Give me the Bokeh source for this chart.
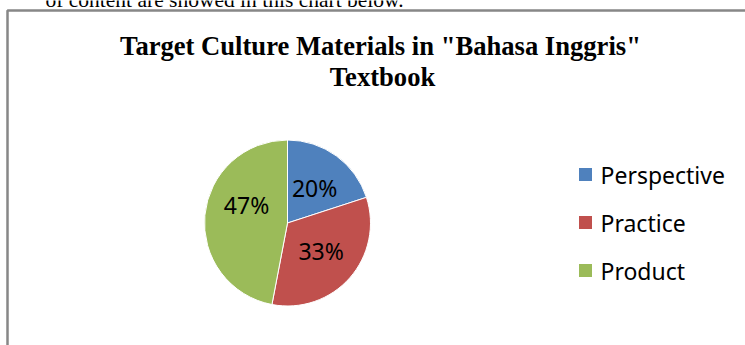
import math
from bokeh.plotting import figure
from bokeh.models import Range1d, ColumnDataSource
from bokeh.core.properties import value
from bokeh.embed import file_html
from bokeh.resources import INLINE

# ---- data ----
categories = ["Perspective", "Practice", "Product"]
shares = [20, 33, 47]
labels = ["20%", "33%", "47%"]
colors = ["#4F81BD", "#C0504D", "#9BBB59"]
title_lines = ['Target Culture Materials in "Bahasa Inggris"', "Textbook"]
page_fragment = "of content are showed in this chart below."

W, H = 745, 345

def sy(y):  # screen y (from top) -> data y
    return H - y

p = figure(width=W, height=H, output_backend="svg", toolbar_location=None,
           x_range=Range1d(0, W), y_range=Range1d(0, H),
           min_border=0, margin=(0, 0, 0, 0))
p.axis.visible = False
p.grid.visible = False
p.outline_line_color = None
p.background_fill_color = "white"
p.border_fill_color = "white"

# chart frame (extends beyond the visible area on right/bottom)
p.quad(left=[7], right=[W + 20], top=[sy(10)], bottom=[-20],
       fill_color=None, line_color="#878787", line_width=2.5)

# text fragment of surrounding document (cut off at top)
p.text(x=[45], y=[sy(-1)], text=[page_fragment], text_font=value("Liberation Serif"),
       text_font_size="21.5px", text_color="black", text_baseline="alphabetic")

# title
p.text(x=[380, 382], y=[sy(45), sy(76)], text=title_lines,
       text_font=value("Liberation Serif"), text_font_style="bold",
       text_font_size="26.6px", text_color="black", text_align="center",
       text_baseline="alphabetic")

# pie
cx, cy, r = 287, sy(222.5), 83
total = sum(shares)
starts, ends, mids = [], [], []
cum = 0.0
for s in shares:
    a0 = math.pi / 2 - 2 * math.pi * cum / total
    cum += s
    a1 = math.pi / 2 - 2 * math.pi * cum / total
    starts.append(a1)
    ends.append(a0)
    mids.append((a0 + a1) / 2)

src = ColumnDataSource(dict(start=starts, end=ends, color=colors, cat=categories))
p.wedge(x=cx, y=cy, radius=r, start_angle="start", end_angle="end",
        direction="anticlock", fill_color="color", line_color="white",
        line_width=1, source=src)

# data labels (best-fit style offsets, degrees clockwise)
label_shift = [-3, 0, -16]
label_rfrac = [0.52, 0.54, 0.53]
lx, ly = [], []
for m, sh, fr in zip(mids, label_shift, label_rfrac):
    a = m + math.radians(sh)
    lx.append(cx + fr * r * math.cos(a))
    ly.append(cy + fr * r * math.sin(a) + 1.5)
p.text(x=lx, y=ly, text=labels, text_font=value("Noto Sans"),
       text_font_size="23px", text_color="black", text_align="center",
       text_baseline="middle")

# legend
leg_y = [sy(174 + 48 * i) for i in range(len(categories))]
p.scatter(x=[585] * len(categories), y=leg_y, marker="square", size=13,
          fill_color=colors, line_color=None)
p.text(x=[600] * len(categories), y=leg_y, text=categories,
       text_font=value("Noto Sans"), text_font_size="23px",
       text_color="black", text_baseline="middle")

open("out.html", "w").write(file_html(p, INLINE))
